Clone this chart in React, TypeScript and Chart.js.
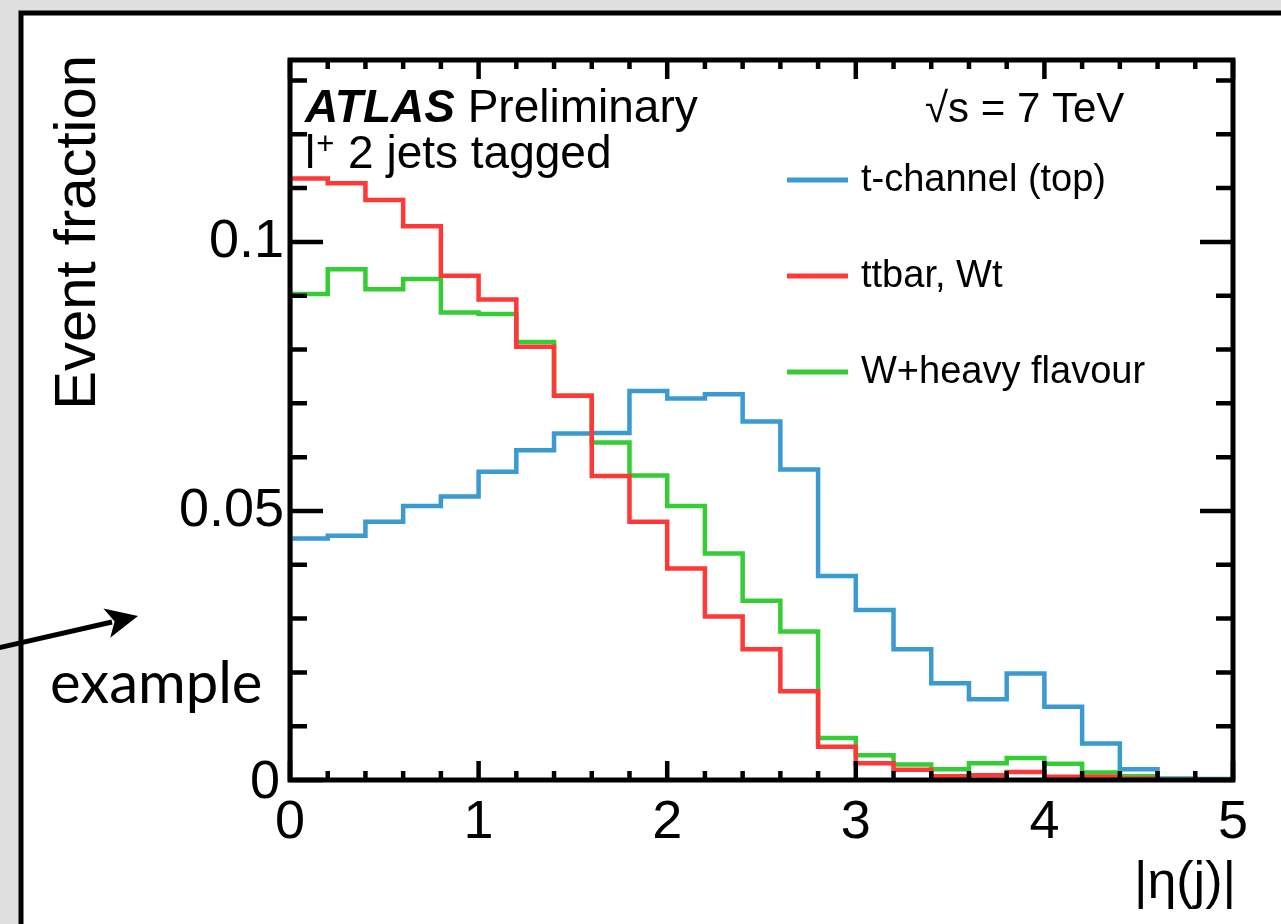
import React, { useEffect, useRef } from "react";
import { Chart, registerables } from "chart.js";

Chart.register(...registerables);

// ---- data ----
const binLowEdges = [
  0.0, 0.2, 0.4, 0.6, 0.8, 1.0, 1.2, 1.4, 1.6, 1.8, 2.0, 2.2, 2.4, 2.6, 2.8,
  3.0, 3.2, 3.4, 3.6, 3.8, 4.0, 4.2, 4.4, 4.6, 4.8,
];
const histUpperEdge = 5.0;

const tChannelTop = [
  0.0449, 0.0454, 0.048, 0.0509, 0.0527, 0.0573, 0.0613, 0.0644, 0.0645,
  0.0723, 0.0709, 0.0717, 0.0666, 0.0577, 0.0379, 0.0316, 0.0243, 0.018,
  0.015, 0.0198, 0.0136, 0.0068, 0.002, 0.0003, 0.0002,
];
const ttbarWt = [
  0.1118, 0.1109, 0.1078, 0.1029, 0.0937, 0.0893, 0.0805, 0.0714, 0.0565,
  0.048, 0.0393, 0.0304, 0.0243, 0.0165, 0.0062, 0.0031, 0.0019, 0.0007,
  0.0009, 0.0015, 0.0006, 0.0006, 0.0003, 0.0, 0.0,
];
const wHeavyFlavour = [
  0.0903, 0.0949, 0.0912, 0.0931, 0.0869, 0.0866, 0.0814, 0.0714, 0.0627,
  0.0566, 0.0509, 0.0421, 0.0333, 0.0276, 0.0078, 0.0046, 0.0029, 0.002,
  0.0031, 0.0041, 0.003, 0.0014, 0.0007, 0.0001, 0.0,
];

const seriesNames = ["t-channel (top)", "ttbar, Wt", "W+heavy flavour"];
const seriesColors = ["#3a9bd1", "#ff3838", "#36cc36"];

const xTickValues = [0, 1, 2, 3, 4, 5];
const xTickLabels = ["0", "1", "2", "3", "4", "5"];
const yTickValues = [0, 0.05, 0.1];
const yTickLabels = ["0", "0.05", "0.1"];
const xMinorStep = 0.2;
const yMinorStep = 0.01;
const xRange = [0, 5];
const yRange = [0, 0.1338];

const xTitle = "|η(j)|";
const yTitle = "Event fraction";

const W = 1281;
const H = 924;
const FONT = "'Liberation Sans', Arial, Helvetica, sans-serif";

function histPoints(values: number[]) {
  const pts: { x: number; y: number }[] = [{ x: binLowEdges[0], y: 0 }];
  values.forEach((v, i) => pts.push({ x: binLowEdges[i], y: v }));
  pts.push({ x: histUpperEdge, y: values[values.length - 1] });
  pts.push({ x: histUpperEdge, y: 0 });
  return pts;
}

const decorPlugin = {
  id: "decor",
  beforeDraw(chart: any) {
    const ctx = chart.ctx as CanvasRenderingContext2D;
    ctx.save();
    ctx.fillStyle = "#dfdfdf";
    ctx.fillRect(0, 0, W, H);
    ctx.fillStyle = "#ffffff";
    ctx.fillRect(21, 13, W, H);
    ctx.strokeStyle = "#000";
    ctx.lineWidth = 5;
    ctx.beginPath();
    ctx.moveTo(21, H + 10);
    ctx.lineTo(21, 13);
    ctx.lineTo(W + 10, 13);
    ctx.stroke();

    // "example" annotation with arrow
    ctx.lineWidth = 5;
    ctx.beginPath();
    ctx.moveTo(-2, 648);
    ctx.lineTo(112, 622);
    ctx.stroke();
    ctx.fillStyle = "#000";
    ctx.beginPath();
    const tipX = 138, tipY = 616;
    const ang = Math.atan2(-32, 138);
    const L = 32, hw = 15, notch = 8;
    const bx = tipX - L * Math.cos(ang), by = tipY - L * Math.sin(ang);
    const nx = -Math.sin(ang), ny = Math.cos(ang);
    ctx.moveTo(tipX, tipY);
    ctx.lineTo(bx + nx * hw, by + ny * hw);
    ctx.lineTo(tipX - (L - notch) * Math.cos(ang), tipY - (L - notch) * Math.sin(ang));
    ctx.lineTo(bx - nx * hw, by - ny * hw);
    ctx.closePath();
    ctx.fill();
    ctx.font = "58px Lato, 'Open Sans', sans-serif";
    ctx.textAlign = "left";
    ctx.textBaseline = "alphabetic";
    ctx.fillText("example", 50, 703);
    ctx.restore();
  },
  afterDraw(chart: any) {
    const ctx = chart.ctx as CanvasRenderingContext2D;
    const xs = chart.scales.x;
    const ys = chart.scales.y;
    const { left, right, top, bottom } = chart.chartArea;
    ctx.save();
    ctx.strokeStyle = "#000";
    ctx.fillStyle = "#000";
    ctx.lineCap = "butt";

    // ticks
    ctx.lineWidth = 4.5;
    ctx.beginPath();
    for (let k = 0; k <= 25; k++) {
      const v = xRange[0] + k * xMinorStep;
      const isMajor = xTickValues.some((t) => Math.abs(t - v) < 1e-6);
      const len = isMajor ? 19 : 9;
      const px = xs.getPixelForValue(v);
      ctx.moveTo(px, bottom);
      ctx.lineTo(px, bottom - len);
      ctx.moveTo(px, top);
      ctx.lineTo(px, top + len);
    }
    for (let k = 0; k <= 13; k++) {
      const v = k * yMinorStep;
      if (v > yRange[1]) break;
      const isMajor = yTickValues.some((t) => Math.abs(t - v) < 1e-6);
      const len = isMajor ? 33 : 17;
      const py = ys.getPixelForValue(v);
      ctx.moveTo(left, py);
      ctx.lineTo(left + len, py);
      ctx.moveTo(right, py);
      ctx.lineTo(right - len, py);
    }
    ctx.stroke();

    // frame
    ctx.lineWidth = 5;
    ctx.strokeRect(left, top, right - left, bottom - top);

    // tick labels
    ctx.font = `54px ${FONT}`;
    ctx.textAlign = "center";
    ctx.textBaseline = "alphabetic";
    xTickValues.forEach((v, i) => {
      ctx.fillText(xTickLabels[i], xs.getPixelForValue(v), 838);
    });
    ctx.textAlign = "right";
    ctx.textBaseline = "middle";
    yTickValues.forEach((v, i) => {
      const py = ys.getPixelForValue(v);
      ctx.fillText(yTickLabels[i], i === 0 ? 280 : 284, i === 0 ? py + 3 : py);
    });

    // axis titles
    ctx.textBaseline = "alphabetic";
    ctx.textAlign = "right";
    ctx.font = `52px ${FONT}`;
    ctx.fillText(xTitle, 1236, 898);
    ctx.save();
    ctx.translate(95, 55);
    ctx.rotate(-Math.PI / 2);
    ctx.font = `58px ${FONT}`;
    ctx.textAlign = "right";
    ctx.fillText(yTitle, 0, 0);
    ctx.restore();

    // ATLAS label
    ctx.textAlign = "left";
    ctx.font = `italic bold 46px ${FONT}`;
    ctx.fillText("ATLAS", 305, 122);
    const wAtlas = ctx.measureText("ATLAS ").width;
    ctx.font = `46px ${FONT}`;
    ctx.fillText("Preliminary", 305 + wAtlas, 122);
    ctx.fillText("l", 305, 168);
    const wl = ctx.measureText("l").width;
    ctx.font = `31px ${FONT}`;
    ctx.fillText("+", 305 + wl + 1, 154);
    const wp = ctx.measureText("+").width;
    ctx.font = `46px ${FONT}`;
    ctx.fillText(" 2 jets tagged", 305 + wl + wp + 2, 168);
    ctx.font = `42px ${FONT}`;
    ctx.fillText("√s = 7 TeV", 925, 122);

    // legend
    ctx.font = `38px ${FONT}`;
    const legendY = [180, 276, 372];
    seriesNames.forEach((name, i) => {
      ctx.strokeStyle = seriesColors[i];
      ctx.lineWidth = 5;
      ctx.beginPath();
      ctx.moveTo(787, legendY[i]);
      ctx.lineTo(848, legendY[i]);
      ctx.stroke();
      ctx.fillStyle = "#000";
      ctx.fillText(name, 861, legendY[i] + 11);
    });
    ctx.restore();
  },
};

export default function App() {
  const ref = useRef<HTMLCanvasElement>(null);
  useEffect(() => {
    if (!ref.current) return;
    const mk = (label: string, values: number[], color: string) => ({
      label,
      data: histPoints(values),
      borderColor: color,
      borderWidth: 4.5,
      stepped: "before" as const,
      pointRadius: 0,
      fill: false,
      borderJoinStyle: "miter" as const,
      borderCapStyle: "butt" as const,
    });
    const chart = new Chart(ref.current, {
      type: "line",
      data: {
        datasets: [
          mk(seriesNames[1], ttbarWt, seriesColors[1]),
          mk(seriesNames[2], wHeavyFlavour, seriesColors[2]),
          mk(seriesNames[0], tChannelTop, seriesColors[0]),
        ],
      },
      options: {
        animation: false,
        responsive: false,
        devicePixelRatio: 1,
        layout: { padding: { left: 290, right: W - 1233, top: 60, bottom: H - 780 } },
        scales: {
          x: { type: "linear", min: xRange[0], max: xRange[1], display: false },
          y: { type: "linear", min: yRange[0], max: yRange[1], display: false },
        },
        plugins: { legend: { display: false }, tooltip: { enabled: false } },
        elements: { line: { tension: 0 } },
      },
      plugins: [decorPlugin],
    } as any);
    return () => chart.destroy();
  }, []);
  return (
    <div style={{ position: "absolute", left: 0, top: 0, width: W, height: H }}>
      <canvas ref={ref} width={W} height={H} style={{ display: "block" }} />
    </div>
  );
}
